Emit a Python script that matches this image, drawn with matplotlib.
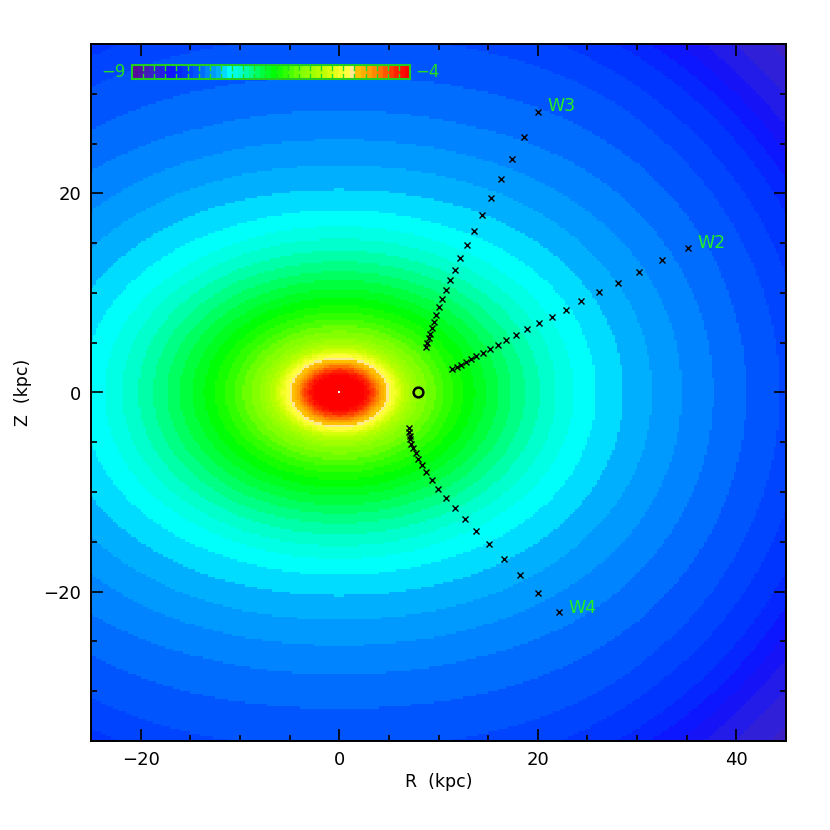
import numpy as np
import matplotlib
matplotlib.use("Agg")
import matplotlib.pyplot as plt
from matplotlib.colors import ListedColormap, BoundaryNorm, to_rgb
from matplotlib.ticker import MultipleLocator

# ---------------- colour table (log density -> colour) ----------------
cmap_anchor_v = [-8.95, -8.70, -8.50, -8.30, -8.08, -7.87, -7.67, -7.45, -7.27,
                 -7.06, -6.88, -6.66, -6.43, -6.19, -5.98, -5.76, -5.53, -5.31,
                 -5.15, -5.05, -4.95, -4.76, -4.54, -4.31, -4.09, -4.00]
cmap_anchor_c = ["#5a0a9a", "#4020c0", "#2a20e0", "#1010ff", "#0030ff", "#0050ff",
                 "#0080ff", "#00b0ff", "#00ffff", "#00ffd0", "#00ff90", "#00ff40",
                 "#00ff00", "#40ff00", "#80ff00", "#a0ff00", "#c8ff00", "#f0ff20",
                 "#ffff40", "#ffe890", "#ffc000", "#ffa000", "#ff7000", "#ff3000",
                 "#ff0000", "#ff0000"]
cbar_min, cbar_max, n_levels = -9.0, -4.0, 50

# ---------------- halo density model ----------------
prof_m = [0, 1.5, 2.9, 3.7, 4.5, 5.0, 5.5, 6.5, 8.0, 10.5, 12.5, 15, 18, 21,
          24.5, 30, 36, 45, 50, 55, 62, 80]
prof_logrho = [-3.3, -3.8, -4.2, -4.5, -4.9, -5.05, -5.25, -5.6, -5.9, -6.2,
               -6.4, -6.62, -6.85, -7.05, -7.25, -7.45, -7.65, -7.92, -8.12,
               -8.45, -8.75, -9.2]
flat_r = [0, 20, 30, 40, 55, 80]
flat_q = [0.69, 0.71, 0.76, 0.84, 0.89, 0.90]

# ---------------- survey fields ----------------
w2_R = [35.08, 32.56, 30.2, 28.07, 26.16, 24.4, 22.8, 21.4, 20.1, 18.9, 17.8,
        16.8, 15.95, 15.18, 14.47, 13.8, 13.23, 12.73, 12.3, 11.83, 11.39]
w2_Z = [14.5, 13.27, 12.1, 11.0, 10.05, 9.15, 8.3, 7.6, 6.93, 6.33, 5.8,
        5.26, 4.79, 4.39, 3.99, 3.62, 3.32, 3.05, 2.81, 2.55, 2.31]
w3_R = [20.03, 18.6, 17.36, 16.3, 15.3, 14.4, 13.6, 12.9, 12.2, 11.7, 11.2,
        10.75, 10.4, 10.08, 9.78, 9.55, 9.3, 9.15, 9.0, 8.88, 8.74]
w3_Z = [28.2, 25.7, 23.5, 21.4, 19.5, 17.8, 16.25, 14.8, 13.5, 12.3, 11.3,
        10.25, 9.35, 8.54, 7.77, 7.1, 6.46, 5.9, 5.43, 5.0, 4.55]
w4_R = [22.14, 20.07, 18.2, 16.58, 15.1, 13.8, 12.66, 11.63, 10.75, 9.98, 9.35,
        8.78, 8.34, 7.97, 7.7, 7.44, 7.27, 7.17, 7.1, 7.04, 7.0]
w4_Z = [-22.04, -20.13, -18.36, -16.75, -15.25, -13.94, -12.7, -11.56, -10.55,
        -9.65, -8.78, -8.0, -7.3, -6.67, -6.06, -5.56, -5.13, -4.72, -4.32,
        -3.92, -3.55]
field_names = ["W2", "W3", "W4"]
label_R = [36.1, 21.0, 23.1]
label_Z = [15.0, 28.8, -21.6]
sun_R, sun_Z = 7.9, 0.0

xlim = (-25, 45)
ylim = (-35, 35)
cell = 0.25

# ---------------- build colormap ----------------
anchor_rgb = np.array([to_rgb(c) for c in cmap_anchor_c])
centers = cbar_min + (np.arange(n_levels) + 0.5) * (cbar_max - cbar_min) / n_levels
cols = np.column_stack([np.interp(centers, cmap_anchor_v, anchor_rgb[:, i]) for i in range(3)])
cmap = ListedColormap(cols).with_extremes(under=cols[0], over=cols[-1])
bounds = np.linspace(cbar_min, cbar_max, n_levels + 1)
norm = BoundaryNorm(bounds, ncolors=n_levels, clip=False)

# ---------------- density field ----------------
R_edges = np.arange(xlim[0], xlim[1] + cell / 2, cell)
Z_edges = np.arange(ylim[0], ylim[1] + cell / 2, cell)
Rc = 0.5 * (R_edges[:-1] + R_edges[1:])
Zc = 0.5 * (Z_edges[:-1] + Z_edges[1:])
RR, ZZ = np.meshgrid(Rc, Zc)
rsph = np.hypot(RR, ZZ)
q = np.interp(rsph, flat_r, flat_q)
m = np.sqrt(RR ** 2 + (ZZ / q) ** 2)
logrho = np.interp(m, prof_m, prof_logrho)

# ---------------- figure ----------------
fig = plt.figure(figsize=(8.3, 8.3), dpi=100)
ax = fig.add_axes([91 / 830, 1 - 741 / 830, 695 / 830, 697 / 830])
ax.pcolormesh(R_edges, Z_edges, logrho, cmap=cmap, norm=norm, shading="flat",
              rasterized=True)
ax.set_xlim(*xlim)
ax.set_ylim(*ylim)

for R, Z in [(w2_R, w2_Z), (w3_R, w3_Z), (w4_R, w4_Z)]:
    ax.plot(R, Z, ls="none", marker="x", ms=4.2, mew=1.0, color="black", zorder=3)
ax.plot([sun_R], [sun_Z], ls="none", marker="o", ms=7, mfc="none", mec="black",
        mew=1.8, zorder=3)
ax.plot([0], [0], ls="none", marker="s", ms=1.6, color="white", mew=0, zorder=3)

for name, lr, lz in zip(field_names, label_R, label_Z):
    ax.text(lr, lz, name, color="#22ee22", fontsize=12.5, ha="left", va="center",
            zorder=4)

for s in ax.spines.values():
    s.set_linewidth(1.4)
    s.set_color("black")
ax.xaxis.set_major_locator(MultipleLocator(20))
ax.yaxis.set_major_locator(MultipleLocator(20))
ax.xaxis.set_minor_locator(MultipleLocator(5))
ax.yaxis.set_minor_locator(MultipleLocator(5))
ax.tick_params(which="both", direction="in", top=True, right=True, width=1.2,
               colors="black", labelsize=13)
ax.tick_params(which="major", length=8.6, pad=7)
ax.tick_params(which="minor", length=4.3)
ax.set_xlabel("R  (kpc)", fontsize=12.5, labelpad=3)
ax.set_ylabel("Z  (kpc)", fontsize=12.5, labelpad=8)

# ---------------- in-plot colour bar ----------------
cax = fig.add_axes([132 / 830, 1 - 79 / 830, 278 / 830, 14 / 830])
cax.imshow(cols[np.newaxis, :, :], extent=[cbar_min, cbar_max, 0, 1],
           aspect="auto", interpolation="nearest")
cax.set_xlim(cbar_min, cbar_max)
cax.set_ylim(0, 1)
for s in cax.spines.values():
    s.set_color("#22cc22")
    s.set_linewidth(1.5)
cax.set_xticks([])
cax.set_yticks([])
for xv in np.arange(cbar_min + 0.2, cbar_max - 0.1, 0.2):
    cax.plot([xv, xv], [0, 0.35], color="#22dd22", lw=1.0)
    cax.plot([xv, xv], [0.65, 1], color="#22dd22", lw=1.0)
fig.text(126 / 830, 1 - 72 / 830, "\u22129", color="#22dd22", fontsize=12,
         ha="right", va="center")
fig.text(415 / 830, 1 - 72 / 830, "\u22124", color="#22dd22", fontsize=12,
         ha="left", va="center")

fig.savefig("out.png", dpi=100)
